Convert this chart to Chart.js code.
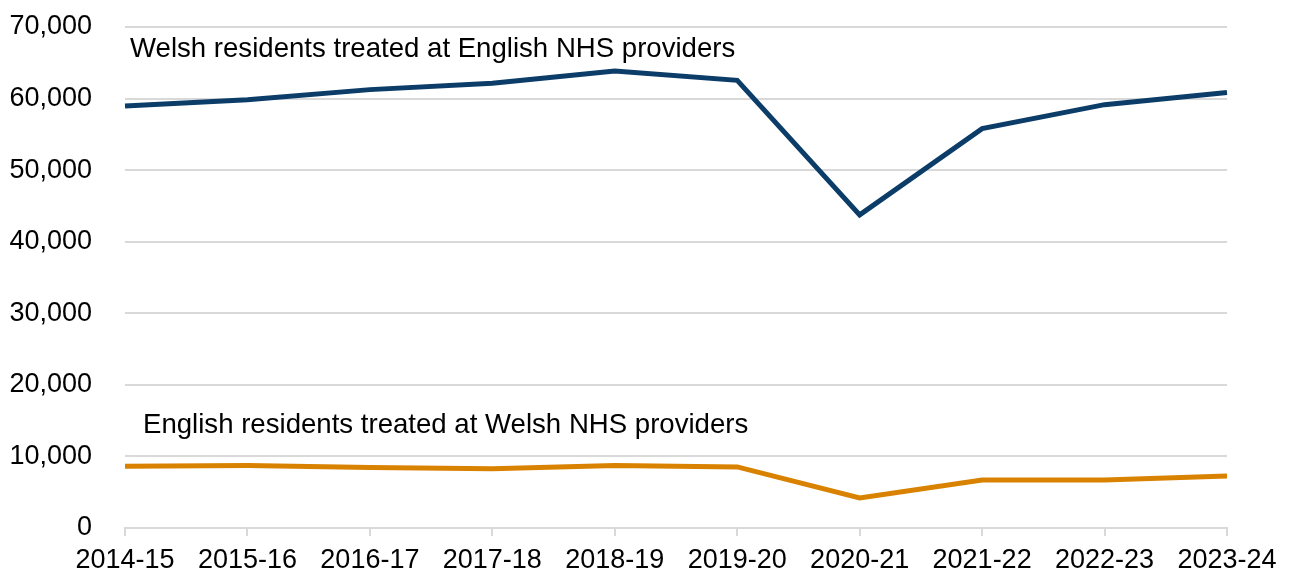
<!DOCTYPE html>
<html>
<head>
<meta charset="utf-8">
<script src="https://cdn.jsdelivr.net/npm/chart.js@4.4.1/dist/chart.umd.min.js"></script>
<style>
  html, body { margin: 0; padding: 0; background: #fff; }
  #wrap { width: 1289px; height: 572px; position: relative; }
</style>
</head>
<body>
<div id="wrap"><canvas id="chart"></canvas></div>
<script>
const years = ['2014-15', '2015-16', '2016-17', '2017-18', '2018-19', '2019-20', '2020-21', '2021-22', '2022-23', '2023-24'];
const welshInEngland = [58950, 59850, 61250, 62150, 63850, 62550, 43750, 55800, 59150, 60850];
const englishInWales = [8630, 8720, 8450, 8290, 8720, 8530, 4200, 6700, 6700, 7270];
const seriesNames = ['Welsh residents treated at English NHS providers', 'English residents treated at Welsh NHS providers'];
const yTicks = [0, 10000, 20000, 30000, 40000, 50000, 60000, 70000];

const FONT = 'Liberation Sans, Arial, sans-serif';
const FONT_SIZE = 27;
const blue = '#0B3D68';
const orange = '#D98200';
const grid = '#D9D9D9';

// series names written straight onto the plot, like the original
const lineLabels = {
    id: 'lineLabels',
    afterDatasetsDraw(chart) {
        const ctx = chart.ctx;
        const x = chart.scales.x, y = chart.scales.y;
        ctx.save();
        ctx.font = '27.6px ' + FONT;
        ctx.fillStyle = '#000';
        ctx.textBaseline = 'middle';
        ctx.textAlign = 'left';
        ctx.fillText(seriesNames[0], x.getPixelForValue(0) + 5, y.getPixelForValue(66900));
        ctx.fillText(seriesNames[1], x.getPixelForValue(0) + 18, y.getPixelForValue(14300));
        ctx.restore();
    }
};

new Chart(document.getElementById('chart'), {
    type: 'line',
    data: {
        labels: years,
        datasets: [{
            label: seriesNames[0],
            data: welshInEngland,
            borderColor: blue,
            backgroundColor: blue,
            borderWidth: 5,
            pointRadius: 0,
            tension: 0
        }, {
            label: seriesNames[1],
            data: englishInWales,
            borderColor: orange,
            backgroundColor: orange,
            borderWidth: 5,
            pointRadius: 0,
            tension: 0
        }]
    },
    options: {
        responsive: true,
        maintainAspectRatio: false,
        animation: false,
        layout: { padding: { left: 0, right: 62, top: 27, bottom: 0 } },
        plugins: {
            legend: { display: false },
            tooltip: { enabled: false }
        },
        scales: {
            x: {
                offset: false,
                grid: { display: true, drawOnChartArea: false, drawTicks: true, tickLength: 8, color: grid, lineWidth: 2 },
                border: { display: true, color: grid, width: 2 },
                ticks: { color: '#000', font: { family: FONT, size: FONT_SIZE }, padding: 8, maxRotation: 0, autoSkip: false },
                afterFit: (s) => { s.height = 44; s.paddingLeft = 0; s.paddingRight = 0; }
            },
            y: {
                min: 0,
                max: 70000,
                afterBuildTicks: (s) => { s.ticks = yTicks.map(v => ({ value: v })); },
                grid: { color: grid, lineWidth: 2, drawTicks: false },
                border: { display: false },
                ticks: {
                    color: '#000',
                    font: { family: FONT, size: FONT_SIZE },
                    padding: 33,
                    callback: (v) => v.toLocaleString('en-GB')
                },
                afterFit: (s) => { s.width = 125; s.paddingTop = 0; s.paddingBottom = 0; }
            }
        }
    },
    plugins: [lineLabels]
});
</script>
</body>
</html>
